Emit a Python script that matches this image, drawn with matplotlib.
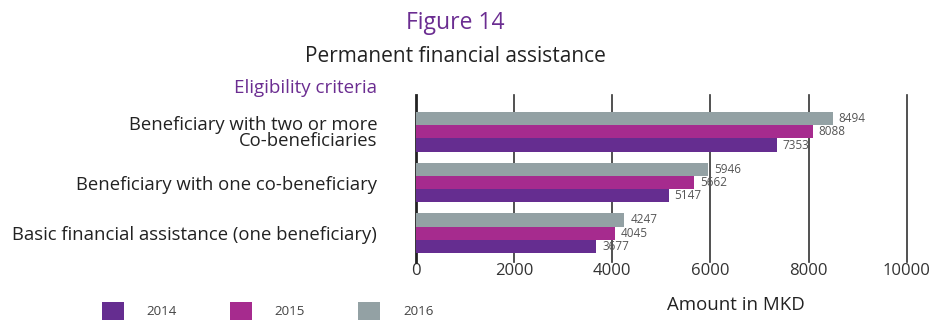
import numpy as np
import matplotlib
matplotlib.use('Agg')
import matplotlib.pyplot as plt

plt.rcParams['font.family'] = ['Open Sans', 'DejaVu Sans']

# data
categories = ['Basic financial assistance (one beneficiary)',
              'Beneficiary with one co-beneficiary',
              'Beneficiary with two or more\nCo-beneficiaries']
years = ['2014', '2015', '2016']
v2014 = [3677, 5147, 7353]
v2015 = [4045, 5662, 8088]
v2016 = [4247, 5946, 8494]
colors = ['#652D90', '#A62B8E', '#93A1A4']

fig = plt.figure(figsize=(9.33, 3.23), dpi=100)
ax = fig.add_axes([0.4459, 0.189, 0.526, 0.517])

y = np.arange(len(categories))
h = 0.26
series = [v2014, v2015, v2016]
bars = []
for i, (vals, c, yr) in enumerate(zip(series, colors, years)):
    b = ax.barh(y + (i - 1) * h, vals, height=h, color=c, label=yr, zorder=3)
    bars.append(b)
    for yy, v in zip(y + (i - 1) * h, vals):
        ax.text(v + 120, yy, str(v), va='center', ha='left', fontsize=8.5, color='#555555', zorder=4)

ax.set_xlim(0, 10000)
ax.set_ylim(-0.57, 2.73)
ax.set_xticks(np.arange(0, 10001, 2000))
for xv in np.arange(2000, 10001, 2000):
    ax.axvline(xv, color='#333333', lw=1.2, zorder=1, clip_on=False)
for s in ['top', 'right', 'bottom']:
    ax.spines[s].set_visible(False)
ax.spines['left'].set_linewidth(2)
ax.spines['left'].set_color('#222222')
ax.tick_params(axis='x', length=0, labelsize=12, colors='#333333', pad=1)
ax.tick_params(axis='y', length=0, labelsize=13.3, colors='#222222', pad=28)
ax.set_yticks(y)
ax.set_yticklabels(categories, linespacing=0.85)

fig.text(0.488, 0.928, 'Figure 14', ha='center', va='center', fontsize=16.5, color='#6B2D91')
fig.text(0.488, 0.826, 'Permanent financial assistance', ha='center', va='center', fontsize=15, color='#222222')
fig.text(0.404, 0.727, 'Eligibility criteria', ha='right', va='center', fontsize=13.5, color='#6B2D91')
fig.text(0.789, 0.055, 'Amount in MKD', ha='center', va='center', fontsize=13.4, color='#222222')

fig.legend(handles=bars, labels=years, loc='center left', bbox_to_anchor=(0.109, 0.037),
           ncol=3, frameon=False, fontsize=9.6, handlelength=1.65, handleheight=1.65,
           handletextpad=1.7, columnspacing=4.0, labelcolor='#444444',
           borderpad=0, borderaxespad=0)

fig.savefig('out.png', dpi=100)
